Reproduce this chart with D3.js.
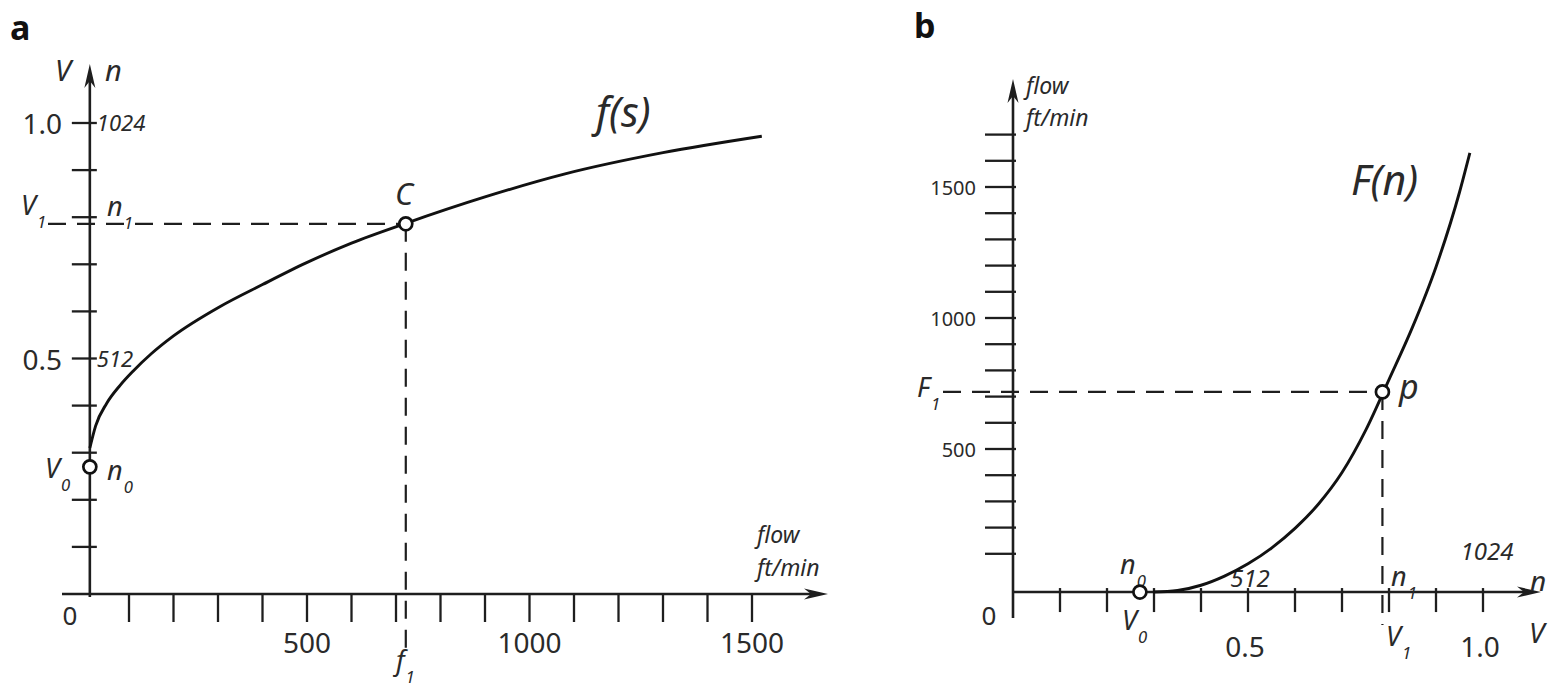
<!DOCTYPE html>
<html>
<head>
<meta charset="utf-8">
<script src="https://cdn.jsdelivr.net/npm/d3@7"></script>
<style>
  body { margin: 0; background: #fff; }
  text { font-family: "Noto Sans", "Open Sans", sans-serif; fill: #2a2a2a; }
  .it { font-style: italic; }
</style>
</head>
<body>
<div id="chart"></div>
<script>
// panel a: speed fraction V (and rpm n) vs flow
var aFlowTicks = [100, 200, 300, 400, 500, 600, 700, 800, 900, 1000, 1100, 1200, 1300, 1400, 1500];
var aFlowLabels = [500, 1000, 1500];
var vTicks = [0.1, 0.2, 0.3, 0.4, 0.5, 0.6, 0.7, 0.8, 0.9, 1.0];
var vLabels = [0.5, 1.0];
var nLabels = ["512", "1024"];
var aCurveFlow = [12, 25, 50, 80, 109, 150, 200, 304, 400, 498, 600, 722, 900, 1080, 1300, 1522];
var aCurveV = [0.31, 0.357, 0.405, 0.443, 0.473, 0.51, 0.548, 0.61, 0.657, 0.703, 0.745, 0.787, 0.843, 0.892, 0.937, 0.972];

// panel b: flow vs V (and n)
var bFlowTicks = [100, 200, 300, 400, 500, 600, 700, 800, 900, 1000, 1100, 1200, 1300, 1400, 1500, 1600, 1700];
var bFlowLabels = [500, 1000, 1500];
var bCurveV = [0.298, 0.35, 0.40, 0.45, 0.50, 0.55, 0.60, 0.65, 0.70, 0.75, 0.80, 0.85, 0.90, 0.95, 0.972];
var bCurveFlow = [-46, -40, -20, 15, 62, 122, 197, 290, 410, 570, 765, 965, 1195, 1480, 1630];

var V0 = 0.27, V1 = 0.786, f1 = 722, F1 = 718;
var aAxisFlow = 12;   // where the V axis crosses the flow axis in panel a
var bBaseFlow = -46;  // where the V axis sits in panel b

var W = 1550, H = 694;
var svg = d3.select("#chart").append("svg")
    .attr("width", W).attr("height", H);

var ink = "#1e1e1e";
var dash = "18,11";

function arrow(g, x, y, dir) {
    // narrow filled arrow head, tip at x,y
    var L = 24, hw = 5.5, notch = 17;
    var p = dir == "up"
        ? [[x, y], [x - hw, y + L], [x, y + notch], [x + hw, y + L]]
        : [[x, y], [x - L, y - hw], [x - notch, y], [x - L, y + hw]];
    g.append("path").attr("d", "M" + p.join("L") + "Z").attr("fill", ink);
}

function sub(g, x, y, main, s, size, anchor) {
    var t = g.append("text").attr("class", "it")
        .attr("x", x).attr("y", y)
        .attr("font-size", size)
        .attr("text-anchor", anchor || "start");
    t.append("tspan").text(main);
    t.append("tspan").attr("dx", 1).attr("dy", size * 0.48).attr("font-size", size * 0.62).text(s);
    return t;
}

/* ---------- panel a ---------- */
var ga = svg.append("g");
var ax = d3.scaleLinear().domain([0, 1500]).range([84.5, 752]);
var ay = d3.scaleLinear().domain([0, 1]).range([594, 123]);
var ax0 = ax(aAxisFlow);

ga.append("text").attr("x", 10).attr("y", 40).attr("font-size", 34)
    .attr("font-weight", "bold").style("fill", "#111").text("a");

// dashed guides
ga.append("line").attr("x1", 48).attr("x2", ax(f1)).attr("y1", ay(V1)).attr("y2", ay(V1))
    .attr("stroke", ink).attr("stroke-width", 2.2).attr("stroke-dasharray", dash);
ga.append("line").attr("x1", ax(f1)).attr("x2", ax(f1)).attr("y1", ay(V1)).attr("y2", 650)
    .attr("stroke", ink).attr("stroke-width", 2.2).attr("stroke-dasharray", dash);

// axes
ga.append("line").attr("x1", 62).attr("x2", 812).attr("y1", ay(0)).attr("y2", ay(0))
    .attr("stroke", ink).attr("stroke-width", 2.6);
arrow(ga, 828, ay(0), "right");
ga.append("line").attr("x1", ax0).attr("x2", ax0).attr("y1", 597).attr("y2", 80)
    .attr("stroke", ink).attr("stroke-width", 2.6);
arrow(ga, ax0, 64, "up");

ga.selectAll(".xt").data(aFlowTicks).enter().append("line")
    .attr("x1", function(d) { return ax(d); }).attr("x2", function(d) { return ax(d); })
    .attr("y1", ay(0)).attr("y2", ay(0) + 28)
    .attr("stroke", ink).attr("stroke-width", 2.3);
ga.selectAll(".yt").data(vTicks).enter().append("line")
    .attr("x1", ax0 - 18).attr("x2", ax0 + 7)
    .attr("y1", function(d) { return ay(d); }).attr("y2", function(d) { return ay(d); })
    .attr("stroke", ink).attr("stroke-width", 2.3);

ga.selectAll(".xl").data(aFlowLabels).enter().append("text")
    .attr("x", function(d) { return ax(d); }).attr("y", 653)
    .attr("text-anchor", "middle").attr("font-size", 28).text(function(d) { return d; });
ga.append("text").attr("x", 70).attr("y", 625).attr("text-anchor", "middle")
    .attr("font-size", 26).text("0");
ga.selectAll(".yl").data(vLabels).enter().append("text")
    .attr("x", 62).attr("y", function(d) { return ay(d) + 11; })
    .attr("text-anchor", "end").attr("font-size", 28).text(function(d) { return d.toFixed(1); });
ga.selectAll(".nl").data(vLabels).enter().append("text").attr("class", "it")
    .attr("x", ax0 + 7).attr("y", function(d) { return ay(d) + 8; })
    .attr("font-size", 22).text(function(d, i) { return nLabels[i]; });

ga.append("text").attr("class", "it").attr("x", 55).attr("y", 81).attr("font-size", 29).text("V");
ga.append("text").attr("class", "it").attr("x", 105).attr("y", 81).attr("font-size", 29).text("n");
sub(ga, 21, 215, "V", "1", 27);
sub(ga, 107, 216, "n", "1", 27);
sub(ga, 45, 478, "V", "0", 27);
sub(ga, 107, 480, "n", "0", 27);
sub(ga, 396, 670, "f", "1", 27);
ga.append("text").attr("class", "it").attr("x", 404).attr("y", 205)
    .attr("text-anchor", "middle").attr("font-size", 31).text("C");
ga.append("text").attr("class", "it").attr("x", 596).attr("y", 127).attr("font-size", 41).text("f(s)");
ga.append("text").attr("class", "it").attr("x", 757).attr("y", 543).attr("font-size", 23).text("flow");
ga.append("text").attr("class", "it").attr("x", 757).attr("y", 576).attr("font-size", 23).text("ft/min");

var aLine = d3.line()
    .x(function(d, i) { return ax(d); })
    .y(function(d, i) { return ay(aCurveV[i]); })
    .curve(d3.curveMonotoneX);
ga.append("path").datum(aCurveFlow).attr("d", aLine)
    .attr("fill", "none").attr("stroke", "#111").attr("stroke-width", 2.9);

ga.append("circle").attr("cx", ax(f1)).attr("cy", ay(V1)).attr("r", 6.5)
    .attr("fill", "#fff").attr("stroke", "#111").attr("stroke-width", 2.7);
ga.append("circle").attr("cx", ax0).attr("cy", ay(V0)).attr("r", 6.5)
    .attr("fill", "#fff").attr("stroke", "#111").attr("stroke-width", 2.7);

/* ---------- panel b ---------- */
var gb = svg.append("g");
var bx = d3.scaleLinear().domain([0, 1]).range([1013, 1483]);
var by = d3.scaleLinear().domain([0, 1700]).range([580, 134.6]);
var by0 = by(bBaseFlow);

gb.append("text").attr("x", 914).attr("y", 38).attr("font-size", 34)
    .attr("font-weight", "bold").style("fill", "#111").text("b");

gb.append("line").attr("x1", 943).attr("x2", bx(V1)).attr("y1", by(F1)).attr("y2", by(F1))
    .attr("stroke", ink).attr("stroke-width", 2.2).attr("stroke-dasharray", dash);
gb.append("line").attr("x1", bx(V1)).attr("x2", bx(V1)).attr("y1", by(F1)).attr("y2", 625)
    .attr("stroke", ink).attr("stroke-width", 2.2).attr("stroke-dasharray", dash);

gb.append("line").attr("x1", bx(0)).attr("x2", 1525).attr("y1", by0).attr("y2", by0)
    .attr("stroke", ink).attr("stroke-width", 2.6);
arrow(gb, 1541, by0, "right");
gb.append("line").attr("x1", bx(0)).attr("x2", bx(0)).attr("y1", 618).attr("y2", 96)
    .attr("stroke", ink).attr("stroke-width", 2.6);
arrow(gb, bx(0), 79, "up");

gb.selectAll(".xt").data(vTicks).enter().append("line")
    .attr("x1", function(d) { return bx(d); }).attr("x2", function(d) { return bx(d); })
    .attr("y1", by0 - 4).attr("y2", by0 + 20)
    .attr("stroke", ink).attr("stroke-width", 2.3);
gb.selectAll(".yt").data(bFlowTicks).enter().append("line")
    .attr("x1", bx(0) - 28).attr("x2", bx(0) + 3)
    .attr("y1", function(d) { return by(d); }).attr("y2", function(d) { return by(d); })
    .attr("stroke", ink).attr("stroke-width", 2.3);

gb.selectAll(".yl").data(bFlowLabels).enter().append("text")
    .attr("x", 976).attr("y", function(d) { return by(d) + 8; })
    .attr("text-anchor", "end").attr("font-size", 20).text(function(d) { return d; });
gb.append("text").attr("x", 989).attr("y", 625).attr("text-anchor", "middle")
    .attr("font-size", 26).text("0");
gb.selectAll(".xl").data(vLabels).enter().append("text")
    .attr("x", function(d) { return bx(d) - 3; }).attr("y", 657)
    .attr("text-anchor", "middle").attr("font-size", 28).text(function(d) { return d.toFixed(1); });
gb.append("text").attr("class", "it").attr("x", 1250).attr("y", 587)
    .attr("text-anchor", "middle").attr("font-size", 24).text(nLabels[0]);
gb.append("text").attr("class", "it").attr("x", 1487).attr("y", 560)
    .attr("text-anchor", "middle").attr("font-size", 24).text(nLabels[1]);

sub(gb, 917, 397, "F", "1", 27);
sub(gb, 1120, 574, "n", "0", 27);
sub(gb, 1122, 630, "V", "0", 27);
sub(gb, 1391, 586, "n", "1", 27);
sub(gb, 1386, 646, "V", "1", 27);
gb.append("text").attr("class", "it").attr("x", 1530).attr("y", 591).attr("font-size", 28).text("n");
gb.append("text").attr("class", "it").attr("x", 1529).attr("y", 643).attr("font-size", 28).text("V");
gb.append("text").attr("class", "it").attr("x", 1399).attr("y", 399).attr("font-size", 34).text("p");
gb.append("text").attr("class", "it").attr("x", 1351).attr("y", 195).attr("font-size", 41).text("F(n)");
gb.append("text").attr("class", "it").attr("x", 1026).attr("y", 94).attr("font-size", 23).text("flow");
gb.append("text").attr("class", "it").attr("x", 1026).attr("y", 126).attr("font-size", 23).text("ft/min");

var bLine = d3.line()
    .x(function(d) { return bx(d); })
    .y(function(d, i) { return by(bCurveFlow[i]); })
    .curve(d3.curveMonotoneX);
gb.append("path").datum(bCurveV).attr("d", bLine)
    .attr("fill", "none").attr("stroke", "#111").attr("stroke-width", 2.9);

gb.append("circle").attr("cx", bx(V1)).attr("cy", by(F1)).attr("r", 6.5)
    .attr("fill", "#fff").attr("stroke", "#111").attr("stroke-width", 2.7);
gb.append("circle").attr("cx", bx(V0)).attr("cy", by0).attr("r", 6.5)
    .attr("fill", "#fff").attr("stroke", "#111").attr("stroke-width", 2.7);
</script>
</body>
</html>
